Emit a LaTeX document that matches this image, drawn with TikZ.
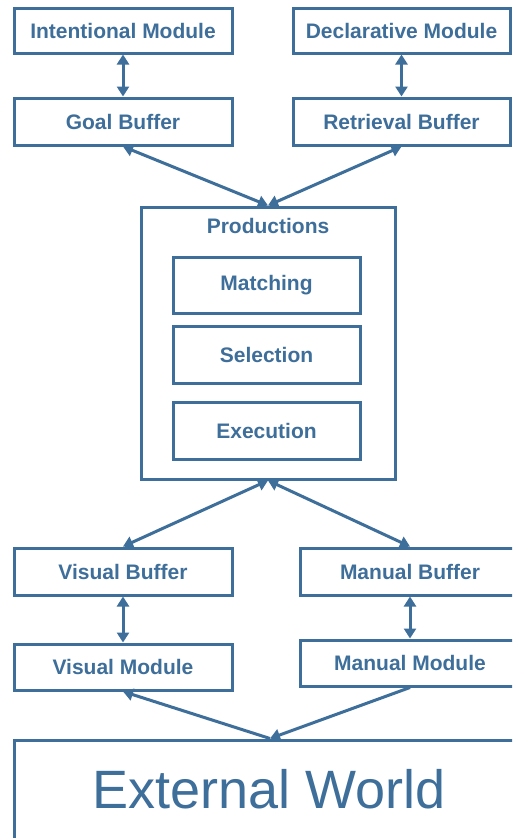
\documentclass[tikz,border=0pt]{standalone}
\usepackage{fontspec}
\setmainfont{Liberation Sans}
\usetikzlibrary{arrows.meta}
\definecolor{steel}{RGB}{62,110,154}
\tikzset{
  box/.style={draw=steel, line width=3pt, fill=white, text=steel,
    font=\fontsize{21}{25}\selectfont\bfseries, inner sep=0pt},
  lbl/.style={text=steel, font=\fontsize{21}{25}\selectfont\bfseries, inner sep=0pt},
  both/.style={draw=steel, line width=3pt, {Triangle[length=10pt,width=12pt]}-{Triangle[length=10pt,width=12pt]}},
  one/.style={draw=steel, line width=3pt, -{Triangle[length=10pt,width=12pt]}}
}
\begin{document}
\begin{tikzpicture}[x=1pt,y=-1pt]
  \clip (0,0) rectangle (512,838);
  \fill[white] (0,0) rectangle (512,838);

  % top modules and buffers
  \node[box, minimum width=218pt, minimum height=45pt] (int)  at (123,30.5)   {Intentional Module};
  \node[box, minimum width=217pt, minimum height=45pt] (decl) at (401.5,30.5) {Declarative Module};
  \node[box, minimum width=218pt, minimum height=47pt] (goal) at (123,121.5)  {Goal Buffer};
  \node[box, minimum width=217pt, minimum height=47pt] (retr) at (401.5,121.5){Retrieval Buffer};

  % production system
  \node[box, minimum width=254pt, minimum height=272pt] (prod) at (268,343) {};
  \node[lbl] (prodlbl) at (268,226) {Productions};
  \node[box, minimum width=187pt, minimum height=56pt] (match) at (266.5,285)   {Matching};
  \node[box, minimum width=187pt, minimum height=57pt] (sel)   at (266.5,354.5) {Selection};
  \node[box, minimum width=187pt, minimum height=57pt] (exe)   at (266.5,430.5) {Execution};

  % perceptual / motor buffers and modules
  \node[box, minimum width=218pt, minimum height=47pt] (visbuf) at (123,571.5) {Visual Buffer};
  \node[box, minimum width=220pt, minimum height=47pt] (manbuf) at (410,571.5) {Manual Buffer};
  \node[box, minimum width=218pt, minimum height=46pt] (vismod) at (123,667)   {Visual Module};
  \node[box, minimum width=220pt, minimum height=46pt] (manmod) at (410,663)   {Manual Module};

  % environment
  \node[box, minimum width=512pt, minimum height=180pt] (world) at (270,830) {};
  \node[text=steel, font=\fontsize{54}{60}\selectfont, inner sep=0pt] (worldtxt) at (269,789) {External World};

  % connectors
  \draw[both] (int.south)  -- (goal.north);
  \draw[both] (decl.south) -- (retr.north);
  \draw[both] (goal.south) -- (prod.north);
  \draw[both] (retr.south) -- (prod.north);
  \draw[both] (prod.south) -- (visbuf.north);
  \draw[both] (prod.south) -- (manbuf.north);
  \draw[both] (visbuf.south) -- (vismod.north);
  \draw[both] (manbuf.south) -- (manmod.north);
  \draw[one] (world.north) -- (vismod.south);
  \draw[one] (manmod.south) -- (world.north);
\end{tikzpicture}
\end{document}
